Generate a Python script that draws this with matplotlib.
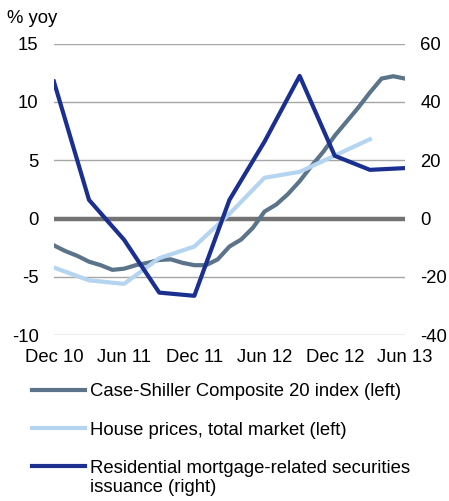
import numpy as np
import matplotlib
matplotlib.use("Agg")
import matplotlib.pyplot as plt

plt.rcParams["font.family"] = ["Liberation Sans", "DejaVu Sans"]
plt.rcParams["font.size"] = 13.3
plt.rcParams["axes.unicode_minus"] = False

# Monthly index: 0 = Dec 10 ... 30 = Jun 13
months = np.arange(31)
case_shiller = [-2.3, -2.8, -3.2, -3.7, -4.0, -4.4, -4.3, -4.0, -3.8, -3.55,
                -3.5, -3.8, -4.0, -4.0, -3.5, -2.4, -1.8, -0.8, 0.6, 1.2,
                2.1, 3.2, 4.5, 5.7, 7.1, 8.3, 9.5, 10.8, 12.0, 12.2, 12.0]

# Quarterly series
hp_months = [0, 3, 6, 9, 12, 15, 18, 21, 24, 27]
house_prices = [-4.2, -5.3, -5.6, -3.4, -2.4, 0.4, 3.5, 4.0, 5.4, 6.8]

rmbs_months = [0, 3, 6, 9, 12, 15, 18, 21, 24, 27, 30]
rmbs_issuance = [47, 6.4, -7.3, -25.4, -26.5, 6.4, 26.4, 48.9, 21.5, 16.7, 17.3]

tick_pos = [0, 6, 12, 18, 24, 30]
tick_labels = ["Dec 10", "Jun 11", "Dec 11", "Jun 12", "Dec 12", "Jun 13"]

c_cs = "#5b7489"
c_hp = "#b4d4f0"
c_rm = "#1b2f90"

fig = plt.figure(figsize=(4.49, 5.01), dpi=100)
ax = fig.add_axes([0.120, 0.331, 0.782, 0.582])
ax2 = ax.twinx()

for y in [15, 10, 5, -5, -10]:
    ax.axhline(y, color="#a6a6a6", lw=1.0, zorder=1)
ax.axhline(0, color="#737373", lw=3.2, zorder=2)

l1, = ax.plot(months, case_shiller, color=c_cs, lw=3.0, zorder=3,
              label="Case-Shiller Composite 20 index (left)")
l2, = ax.plot(hp_months, house_prices, color=c_hp, lw=3.0, zorder=3,
              label="House prices, total market (left)")
l3, = ax2.plot(rmbs_months, rmbs_issuance, color=c_rm, lw=3.0, zorder=4,
               label="Residential mortgage-related securities")

ax.set_xlim(0, 30)
ax.set_ylim(-10, 15)
ax2.set_ylim(-40, 60)
ax.set_yticks([-10, -5, 0, 5, 10, 15])
ax2.set_yticks([-40, -20, 0, 20, 40, 60])
ax.set_xticks(tick_pos)
ax.set_xticklabels(tick_labels)

for a in (ax, ax2):
    for s in a.spines.values():
        s.set_visible(False)
    a.tick_params(length=0)
ax.tick_params(axis="y", pad=11)
ax2.tick_params(axis="y", pad=11)
ax.tick_params(axis="x", pad=10)

fig.text(0.016, 0.963, "% yoy", va="center", ha="left")

leg = fig.legend(handles=[l1, l2, l3], loc="upper left",
                 bbox_to_anchor=(0.071, 0.235), frameon=False,
                 handlelength=2.87, handletextpad=0.27, labelspacing=1.15,
                 borderaxespad=0, borderpad=0)

# second line of the last legend label, kept under the first line
fig.canvas.draw()
bb = leg.get_texts()[2].get_window_extent().transformed(fig.transFigure.inverted())
fig.text(bb.x0, bb.y0 - 0.005, "issuance (right)", va="top", ha="left")

fig.savefig("out.png", dpi=100)
